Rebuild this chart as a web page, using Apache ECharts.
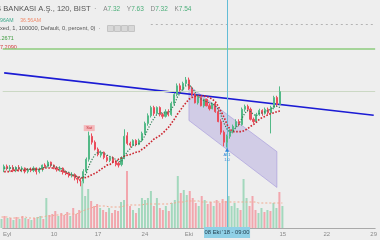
<!DOCTYPE html>
<html><head><meta charset="utf-8">
<script src="https://cdn.jsdelivr.net/npm/echarts@6/dist/echarts.min.js"></script>
<style>html,body{margin:0;padding:0;background:#eeeeee}#c{width:380px;height:240px}</style>
</head><body><div id="c"></div>
<script>
// OHLC candles: [open, close, low, high]
const candles = [
[6.22,6.27,6.17,6.30],[6.27,6.24,6.20,6.30],[6.24,6.25,6.18,6.29],[6.25,6.20,6.17,6.29],[6.20,6.25,6.17,6.27],
[6.25,6.22,6.18,6.29],[6.22,6.24,6.17,6.27],[6.24,6.18,6.15,6.25],[6.18,6.22,6.15,6.24],[6.22,6.20,6.17,6.25],
[6.20,6.24,6.17,6.27],[6.24,6.18,6.13,6.25],[6.18,6.22,6.15,6.25],[6.22,6.29,6.18,6.30],[6.29,6.27,6.24,6.32],
[6.27,6.34,6.25,6.37],[6.34,6.29,6.25,6.35],[6.29,6.25,6.22,6.30],[6.25,6.22,6.18,6.27],[6.22,6.24,6.18,6.27],
[6.24,6.17,6.13,6.25],[6.17,6.15,6.12,6.20],[6.15,6.12,6.08,6.17],[6.12,6.13,6.08,6.17],[6.13,6.07,6.03,6.15],
[6.07,6.05,5.98,6.10],[6.05,6.02,5.93,6.07],[6.02,6.18,5.98,6.22],[6.18,6.39,6.15,6.42],[6.39,6.79,6.35,6.86],
[6.78,6.68,6.64,6.83],[6.68,6.56,6.54,6.71],[6.56,6.47,6.44,6.59],[6.46,6.51,6.42,6.54],[6.51,6.42,6.39,6.52],
[6.42,6.37,6.34,6.46],[6.37,6.42,6.34,6.44],[6.42,6.34,6.32,6.44],[6.34,6.30,6.27,6.37],[6.32,6.29,6.25,6.35],
[6.30,6.42,6.27,6.44],[6.42,6.78,6.39,6.90],[6.79,6.66,6.63,6.85],[6.66,6.63,6.59,6.69],[6.63,6.71,6.61,6.73],
[6.71,6.64,6.61,6.73],[6.64,6.71,6.63,6.74],[6.71,6.83,6.69,6.86],[6.83,7.00,6.81,7.03],[7.00,7.13,6.96,7.17],
[7.13,7.27,7.10,7.30],[7.27,7.17,7.13,7.30],[7.17,7.27,7.15,7.29],[7.27,7.15,7.12,7.29],[7.15,7.12,7.08,7.18],
[7.12,7.20,7.10,7.24],[7.20,7.15,7.12,7.24],[7.15,7.34,7.13,7.37],[7.34,7.49,7.30,7.52],[7.49,7.64,7.46,7.68],
[7.64,7.57,7.54,7.68],[7.57,7.68,7.56,7.71],[7.68,7.74,7.64,7.79],[7.74,7.59,7.57,7.78],[7.59,7.49,7.46,7.63],
[7.49,7.35,7.34,7.52],[7.35,7.44,7.32,7.47],[7.44,7.30,7.29,7.46],[7.30,7.41,7.27,7.42],[7.41,7.30,7.29,7.42],
[7.30,7.25,7.22,7.34],[7.25,7.34,7.24,7.35],[7.34,7.20,7.18,7.35],[7.20,7.03,7.02,7.24],[7.03,6.85,6.81,7.07],
[6.85,6.68,6.61,6.88],[6.68,6.78,6.59,6.81],[6.78,6.86,6.74,6.90],[6.86,6.95,6.83,6.98],[6.95,7.03,6.91,7.07],
[7.03,6.98,6.95,7.07],[6.98,7.24,6.96,7.27],[7.24,7.29,7.20,7.32],[7.29,7.24,7.20,7.32],[7.24,7.07,7.05,7.27],
[7.07,7.03,7.00,7.10],[7.03,7.15,7.02,7.18],[7.15,7.22,7.13,7.25],[7.22,7.17,7.13,7.24],[7.17,7.24,7.15,7.27],
[7.24,7.18,7.15,7.27],[7.18,7.27,6.83,7.30],[7.27,7.44,7.24,7.47],[7.44,7.32,7.29,7.47],[7.32,7.54,7.32,7.63]
];
// volume in millions
const volumes = [
9,12,10,10,8,11,9,12,10,9, 8,10,11,12,9,30,13,14,17,12, 15,13,16,12,20,14,18,47,32,39,
27,22,24,20,18,16,20,15,18,17, 26,28,57,22,18,15,20,30,28,30, 37,22,30,20,18,22,17,25,28,52,
35,38,33,37,30,25,22,32,28,24, 26,22,28,25,29,27,32,22,25,20, 18,49,30,22,32,18,15,20,16,18,
17,25,20,36,22
];
const volumeMA = [
11,11,11,10,10,10,10,11,11,10, 10,10,10,11,11,12,12,12,13,13, 13,13,14,14,14,14,15,17,18,19,
20,21,22,22,22,22,21,21,21,21, 21,22,23,23,23,23,23,23,24,24, 24,24,24,24,24,24,24,25,25,26,
26,26,27,27,27,27,27,26,26,26, 26,26,26,26,26,26,26,26,26,26, 26,26,26,26,26,26,25,25,25,25,
25,25,25,25,25
];
const fastLine = [
6.24,6.24,6.24,6.24,6.24,6.24,6.22,6.22,6.22,6.22, 6.22,6.22,6.22,6.24,6.25,6.29,6.29,6.27,6.25,6.24,
6.22,6.18,6.17,6.13,6.12,6.08,6.07,6.08,6.15,6.29, 6.39,6.47,6.51,6.51,6.49,6.46,6.44,6.41,6.39,6.35,
6.35,6.44,6.52,6.57,6.63,6.64,6.66,6.71,6.79,6.90, 7.00,7.08,7.15,7.17,7.18,7.18,7.18,7.24,7.32,7.44,
7.52,7.59,7.64,7.66,7.61,7.54,7.47,7.42,7.39,7.37, 7.35,7.34,7.30,7.24,7.13,7.00,6.90,6.85,6.86,6.93,
6.98,7.08,7.17,7.22,7.20,7.15,7.13,7.17,7.18,7.20, 7.22,7.24,7.29,7.29,7.27
];
const slowLine = [
6.18,6.18,6.18,6.20,6.20,6.20,6.20,6.20,6.22,6.22, 6.22,6.22,6.22,6.22,6.24,6.24,6.24,6.24,6.22,6.20,
6.18,6.17,6.13,6.12,6.10,6.10,6.08,6.07,6.08,6.10, 6.13,6.15,6.18,6.22,6.25,6.29,6.30,6.34,6.35,6.39,
6.41,6.44,6.46,6.47,6.49,6.51,6.52,6.56,6.59,6.64, 6.68,6.73,6.76,6.79,6.83,6.88,6.93,7.00,7.07,7.15,
7.22,7.29,7.35,7.41,7.44,7.46,7.47,7.47,7.47,7.46, 7.44,7.41,7.37,7.29,7.20,7.10,6.98,6.90,6.86,6.86,
6.86,6.86,6.88,6.91,6.95,6.98,7.02,7.07,7.10,7.12, 7.15,7.17,7.18,7.20,7.21
];
const tickIdx  = [1, 17, 32, 48, 63, 95, 110, 126];
const tickText = ['Eyl', '10', '17', '24', 'Eki', '15', '22', '29'];
const nCats = 127;
const trendStart = [0, 7.86], trendEnd = [126, 7.14];
const channelIdx = [63, 93], channelUpper = [7.64, 6.52], channelLower = [7.05, 5.91];
const crossIdx = 76, crossText = "08 Eki '18 - 09:00";
const greenLevel = 8.2671, grayLevel = 8.69, grayLevelStart = 50;
const sellSignal = [29, 6.92], buySignal = [76, 6.55];

const UP = '#53b987', DOWN = '#eb4d5c', UPV = '#a3d8bd', DOWNV = '#f2a6ad';
const cats = Array.from({length: nCats}, (_, i) => String(i));
const last = candles[candles.length - 1];
const volData = volumes.map((v, i) => ({value: v, itemStyle: {color: candles[i][1] >= candles[i][0] ? UPV : DOWNV}}));

const chart = echarts.init(document.getElementById('c'), null, {renderer: 'canvas'});
const FONT = 'Liberation Sans';
chart.setOption({
  animation: false,
  backgroundColor: '#eeeeee',
  grid: [
    {left: -1.5, right: 0.5, top: 0, bottom: 12},
    {left: -1.5, right: 0.5, top: 0, bottom: 12}
  ],
  xAxis: [
    {type: 'category', data: cats, gridIndex: 0, boundaryGap: true,
     axisLine: {lineStyle: {color: '#a9a9a9'}},
     axisTick: {interval: (i) => tickIdx.includes(i), length: 3, alignWithLabel: true, lineStyle: {color: '#a9a9a9'}},
     axisLabel: {interval: (i) => tickIdx.includes(i), formatter: (v, i) => { const k = tickIdx.indexOf(Number(v)); return k >= 0 ? tickText[k] : ''; },
                 fontSize: 6, color: '#8a8a8a', margin: 3, fontFamily: FONT, showMaxLabel: true},
     splitLine: {show: false}},
    {type: 'category', data: cats, gridIndex: 1, show: false}
  ],
  yAxis: [
    {type: 'value', gridIndex: 0, min: 5.22, max: 9.10, show: false, splitLine: {show: false}},
    {type: 'value', gridIndex: 1, min: 0, max: 228, show: false, splitLine: {show: false}}
  ],
  series: [
    {type: 'bar', xAxisIndex: 1, yAxisIndex: 1, data: volData, barWidth: 2, z: 1},
    {type: 'line', xAxisIndex: 1, yAxisIndex: 1, data: volumeMA, showSymbol: false, z: 2,
     lineStyle: {color: '#f1a98f', width: 1, type: [2, 2]}},
    {type: 'custom', xAxisIndex: 0, yAxisIndex: 0, z: 3, data: [0],
     renderItem: (params, api) => {
       const p1 = api.coord([channelIdx[0], channelUpper[0]]);
       const p2 = api.coord([channelIdx[1], channelUpper[1]]);
       const p3 = api.coord([channelIdx[1], channelLower[1]]);
       const p4 = api.coord([channelIdx[0], channelLower[0]]);
       return {type: 'polygon', shape: {points: [p1, p2, p3, p4]},
               style: {fill: 'rgba(150,135,215,0.32)', stroke: 'rgba(150,135,215,0.6)', lineWidth: 0.8}};
     }},
    {type: 'candlestick', xAxisIndex: 0, yAxisIndex: 0, data: candles, barWidth: 1.6, z: 5,
     itemStyle: {color: UP, color0: DOWN, borderColor: UP, borderColor0: DOWN, borderWidth: 1},
     markLine: {symbol: 'none', silent: true, label: {show: false}, animation: false,
       data: [
         [{coord: trendStart, lineStyle: {color: '#1b1bd4', width: 1.6, type: 'solid'}}, {coord: trendEnd}],
         {yAxis: greenLevel, lineStyle: {color: '#8dcb7c', width: 1.5, type: 'solid'}},
         {yAxis: last[1], lineStyle: {color: '#cbd8c4', width: 1, type: 'solid'}},
         [{coord: [grayLevelStart, grayLevel], lineStyle: {color: '#b4b4b4', width: 1, type: [2, 3]}}, {coord: [nCats - 1, grayLevel]}],
         {xAxis: String(crossIdx), lineStyle: {color: '#62bcd6', width: 1, type: 'solid'}}
       ]},
     markPoint: {silent: true, animation: false,
       data: [
         {coord: sellSignal, symbol: 'rect', symbolSize: [11, 6], itemStyle: {color: '#f5b8bb'},
          label: {show: true, formatter: 'Sat', fontSize: 4, color: '#c0303a', fontFamily: FONT}},
         {coord: buySignal, symbol: 'triangle', symbolSize: [4, 4], itemStyle: {color: '#2d86d9'},
          label: {show: true, position: 'bottom', distance: 1, formatter: 'Al 1\n1.0', fontSize: 4, lineHeight: 5, color: '#2d86d9', fontFamily: FONT}}
       ]}},
    {type: 'line', xAxisIndex: 0, yAxisIndex: 0, data: slowLine, showSymbol: false, z: 6,
     lineStyle: {color: '#cc2630', width: 1.6, type: [1.6, 1.6]}},
    {type: 'line', xAxisIndex: 0, yAxisIndex: 0, data: fastLine, showSymbol: false, z: 6,
     lineStyle: {color: '#2f7d55', width: 1.2, type: [1.2, 1.6]}}
  ]
});

const cx = chart.convertToPixel({xAxisIndex: 0, yAxisIndex: 0}, [crossIdx, 7])[0];
chart.setOption({
  graphic: [
    {type: 'text', left: -6, top: 3, style: {
      text: '{t|İŞ BANKASI A.Ş., 120, BIST} {g|·}  {l|A}{v|' + last[0].toFixed(2) + '}  {l|Y}{v|' + last[3].toFixed(2) + '}  {l|D}{v|' + last[2].toFixed(2) + '}  {l|K}{v|' + last[1].toFixed(2) + '}',
      rich: {t: {fontSize: 7.6, fill: '#555', fontFamily: FONT}, g: {fontSize: 7.5, fill: '#999', fontFamily: FONT},
             l: {fontSize: 6.5, fill: '#888', fontFamily: FONT}, v: {fontSize: 6.5, fill: '#4caf7a', fontFamily: FONT}}}},
    {type: 'text', left: 0, top: 15, style: {text: '{a|96AM}  {b|36.56AM}',
      rich: {a: {fontSize: 5.2, fill: '#3aa88a', fontFamily: FONT}, b: {fontSize: 5.2, fill: '#f08a6a', fontFamily: FONT}}}},
    {type: 'text', left: 0, top: 25, style: {text: 'xed, 1, 100000, Default, 0, percent, 0)  ·', fontSize: 5.7, fill: '#555', fontFamily: FONT}},
    {type: 'rect', left: 107, top: 25, shape: {width: 6, height: 6}, style: {fill: '#d8d8d8', stroke: '#c4c4c4'}},
    {type: 'rect', left: 114, top: 25, shape: {width: 6, height: 6}, style: {fill: '#d8d8d8', stroke: '#c4c4c4'}},
    {type: 'rect', left: 121, top: 25, shape: {width: 6, height: 6}, style: {fill: '#d8d8d8', stroke: '#c4c4c4'}},
    {type: 'rect', left: 128, top: 25, shape: {width: 6, height: 6}, style: {fill: '#d8d8d8', stroke: '#c4c4c4'}},
    {type: 'text', left: 0, top: 35, style: {text: '.2671', fontSize: 5.5, fill: '#3f9a3f', fontFamily: FONT}},
    {type: 'text', left: 0, top: 44, style: {text: '7.2090', fontSize: 5.5, fill: '#d23a3a', fontFamily: FONT}},
    {type: 'rect', x: cx - 23, y: 227, shape: {width: 46, height: 11}, style: {fill: '#8fd0e6'}, z: 100},
    {type: 'text', x: cx, y: 232.5, style: {text: crossText, fontSize: 5.8, fill: '#1f3a4a', align: 'center', verticalAlign: 'middle', fontFamily: FONT}, z: 101}
  ]
});
</script></body></html>
